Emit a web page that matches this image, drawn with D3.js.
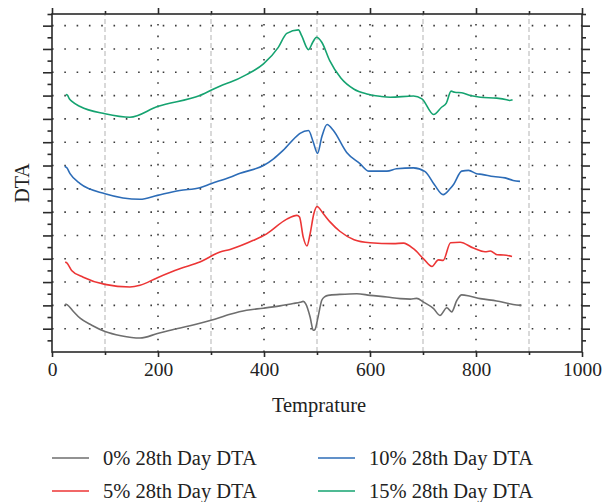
<!DOCTYPE html>
<html>
<head>
<meta charset="utf-8">
<script src="https://cdn.jsdelivr.net/npm/d3@7"></script>
<style>
  html, body { margin: 0; padding: 0; background: #fff; }
  svg { display: block; }
  text { font-family: "Liberation Serif", "DejaVu Serif", serif; fill: #222; }
</style>
</head>
<body>
<svg id="chart" width="614" height="502"></svg>
<script>
// DTA curves of 28th-day samples, temperature (°C) vs. DTA signal (offset units)
const temp0  = [25, 29, 40, 53, 75, 100, 130, 166, 199, 235, 270, 300, 336, 367, 399, 430, 455, 468, 474, 479, 487, 493, 496, 502, 509, 515, 521, 543, 575, 600, 632, 657, 676, 688, 701, 720, 732, 745, 754, 764, 773, 789, 808, 839, 870, 886];
const dta0   = [2.06, 2.02, 1.75, 1.45, 1.15, 0.88, 0.70, 0.60, 0.79, 1.00, 1.18, 1.36, 1.62, 1.79, 1.88, 1.98, 2.08, 2.13, 2.17, 2.05, 1.50, 0.93, 0.96, 1.50, 2.22, 2.38, 2.43, 2.47, 2.50, 2.43, 2.36, 2.29, 2.27, 2.30, 2.14, 1.86, 1.57, 1.90, 1.72, 2.22, 2.45, 2.39, 2.29, 2.19, 2.04, 2.00];

const temp5  = [25, 28, 37, 59, 100, 147, 166, 199, 241, 279, 317, 336, 380, 405, 443, 462, 467, 474, 481, 487, 494, 500, 512, 525, 543, 570, 600, 644, 663, 682, 701, 717, 729, 738, 752, 770, 795, 817, 827, 840, 852, 868];
const dta5   = [3.86, 3.82, 3.50, 3.21, 2.90, 2.79, 2.86, 3.19, 3.57, 3.86, 4.29, 4.40, 4.79, 5.07, 5.70, 5.86, 5.79, 4.93, 4.55, 5.07, 5.93, 6.24, 5.93, 5.57, 5.18, 4.82, 4.69, 4.65, 4.67, 4.43, 4.00, 3.67, 3.95, 3.93, 4.69, 4.71, 4.46, 4.30, 4.33, 4.17, 4.16, 4.10];

const temp10 = [24, 28, 34, 53, 100, 166, 199, 241, 279, 300, 336, 355, 399, 418, 436, 465, 468, 484, 493, 501, 509, 519, 531, 556, 581, 598, 632, 650, 682, 704, 722, 738, 751, 758, 773, 786, 801, 811, 833, 855, 870, 883];
const dta10  = [7.97, 7.90, 7.65, 7.22, 6.79, 6.55, 6.72, 6.93, 7.05, 7.22, 7.50, 7.67, 8.00, 8.29, 8.65, 9.33, 9.38, 9.50, 9.00, 8.52, 9.22, 9.76, 9.50, 8.56, 8.08, 7.76, 7.76, 7.86, 7.90, 7.74, 7.16, 6.75, 7.00, 7.20, 7.76, 7.79, 7.65, 7.62, 7.53, 7.47, 7.36, 7.32];

const temp15 = [26, 29, 33, 37, 53, 100, 147, 199, 279, 323, 336, 367, 399, 427, 443, 465, 471, 484, 492, 499, 509, 524, 545, 570, 594, 619, 638, 682, 698, 720, 735, 744, 753, 760, 773, 789, 808, 839, 858, 863, 869];
const dta15  = [11.05, 11.02, 10.85, 10.76, 10.53, 10.22, 10.07, 10.53, 11.00, 11.47, 11.57, 11.90, 12.36, 13.07, 13.67, 13.82, 13.57, 12.97, 13.29, 13.50, 13.29, 12.50, 11.75, 11.27, 11.07, 10.97, 10.93, 10.98, 10.86, 10.19, 10.50, 10.68, 11.19, 11.14, 11.12, 11.00, 10.93, 10.89, 10.82, 10.79, 10.82];

const seriesNames  = ["0% 28th Day DTA", "5% 28th Day DTA", "10% 28th Day DTA", "15% 28th Day DTA"];
const seriesColors = ["#6e6e6e", "#ec3535", "#2c6cb7", "#15a370"];

const xTicksMajor = [0, 200, 400, 600, 800, 1000];
const xTicksMinor = [100, 300, 500, 700, 900];
const yTicksMajor = d3.range(1, 15);
const yTicksMinor = d3.range(0.5, 14.6, 1);

const xTitle = "Temprature";
const yTitle = "DTA";

const series = [
  { name: seriesNames[0], color: seriesColors[0], t: temp0,  v: dta0 },
  { name: seriesNames[1], color: seriesColors[1], t: temp5,  v: dta5 },
  { name: seriesNames[2], color: seriesColors[2], t: temp10, v: dta10 },
  { name: seriesNames[3], color: seriesColors[3], t: temp15, v: dta15 }
];

const L = 52, R = 582, T = 14, B = 352;
const svg = d3.select("#chart");

const x = d3.scaleLinear().domain([0, 1000]).range([L, R]);
const y = d3.scaleLinear().domain([0, 14.5]).range([B, T]);

// grid: dashed minor verticals, dotted major verticals and horizontals
const grid = svg.append("g");
grid.selectAll("line.vmin").data(xTicksMinor).join("line")
  .attr("x1", d => x(d)).attr("x2", d => x(d))
  .attr("y1", B).attr("y2", T)
  .attr("stroke", "#cdcdcd").attr("stroke-width", 1.5)
  .attr("stroke-dasharray", "5,3");
grid.selectAll("line.vmaj").data(xTicksMajor.slice(1, -1)).join("line")
  .attr("x1", d => x(d)).attr("x2", d => x(d))
  .attr("y1", B).attr("y2", T)
  .attr("stroke", "#3a3a3a").attr("stroke-width", 1.6)
  .attr("stroke-dasharray", "1.6,10.06");
grid.selectAll("line.h").data(yTicksMajor).join("line")
  .attr("x1", L).attr("x2", R)
  .attr("y1", d => y(d)).attr("y2", d => y(d))
  .attr("stroke", "#3a3a3a").attr("stroke-width", 1.6)
  .attr("stroke-dasharray", "1.6,10.7");

// curves
const line = d3.line()
  .x(d => x(d[0])).y(d => y(d[1]))
  .curve(d3.curveMonotoneX);
svg.append("g").selectAll("path").data(series).join("path")
  .attr("d", s => line(s.t.map((t, i) => [t, s.v[i]])))
  .attr("fill", "none")
  .attr("stroke", s => s.color)
  .attr("stroke-width", 1.6)
  .attr("stroke-linejoin", "round");

// axes on all four sides, ticks outward
function styleAxis(g) {
  g.selectAll("path.domain").remove();
  g.selectAll(".tick line").attr("stroke", "#2a2a2a").attr("stroke-width", 1.6);
  g.selectAll(".tick text").attr("font-size", 19.5).attr("fill", "#222")
    .attr("font-family", "'Liberation Serif', serif");
}
const axes = svg.append("g");
axes.append("g").attr("transform", `translate(0,${B})`)
  .call(d3.axisBottom(x).tickValues(xTicksMajor).tickSize(5).tickPadding(5).tickFormat(d3.format("d")))
  .call(styleAxis);
axes.append("g").attr("transform", `translate(0,${B})`)
  .call(d3.axisBottom(x).tickValues(xTicksMinor).tickSize(3).tickFormat(""))
  .call(styleAxis);
axes.append("g").attr("transform", `translate(0,${T})`)
  .call(d3.axisTop(x).tickValues(xTicksMajor).tickSize(6).tickFormat(""))
  .call(styleAxis);
axes.append("g").attr("transform", `translate(0,${T})`)
  .call(d3.axisTop(x).tickValues(xTicksMinor).tickSize(3).tickFormat(""))
  .call(styleAxis);
axes.append("g").attr("transform", `translate(${L},0)`)
  .call(d3.axisLeft(y).tickValues(yTicksMajor).tickSize(9).tickFormat(""))
  .call(styleAxis);
axes.append("g").attr("transform", `translate(${L},0)`)
  .call(d3.axisLeft(y).tickValues(yTicksMinor).tickSize(4.5).tickFormat(""))
  .call(styleAxis);
axes.append("g").attr("transform", `translate(${R},0)`)
  .call(d3.axisRight(y).tickValues(yTicksMajor).tickSize(8).tickFormat(""))
  .call(styleAxis);
axes.append("g").attr("transform", `translate(${R},0)`)
  .call(d3.axisRight(y).tickValues(yTicksMinor).tickSize(4).tickFormat(""))
  .call(styleAxis);

// frame
svg.append("rect")
  .attr("x", L).attr("y", T).attr("width", R - L).attr("height", B - T)
  .attr("fill", "none").attr("stroke", "#2a2a2a").attr("stroke-width", 1.6);

// axis titles
svg.append("text")
  .attr("x", (L + R) / 2 + 2).attr("y", 412)
  .attr("text-anchor", "middle").attr("font-size", 20.5)
  .text(xTitle);
svg.append("text")
  .attr("transform", `translate(29,${(T + B) / 2}) rotate(-90)`)
  .attr("text-anchor", "middle").attr("font-size", 20)
  .text(yTitle);

// legend: two columns, two rows
const legendPos = [
  { lx: 52,  ly: 458 },
  { lx: 52,  ly: 491 },
  { lx: 318, ly: 458 },
  { lx: 318, ly: 491 }
];
const legend = svg.append("g");
series.forEach((s, i) => {
  const p = legendPos[i];
  legend.append("line")
    .attr("x1", p.lx).attr("x2", p.lx + 37)
    .attr("y1", p.ly).attr("y2", p.ly)
    .attr("stroke", s.color).attr("stroke-width", 1.6);
  legend.append("text")
    .attr("x", p.lx + 51).attr("y", p.ly + 6.5)
    .attr("font-size", 20.5)
    .text(s.name);
});
</script>
</body>
</html>
